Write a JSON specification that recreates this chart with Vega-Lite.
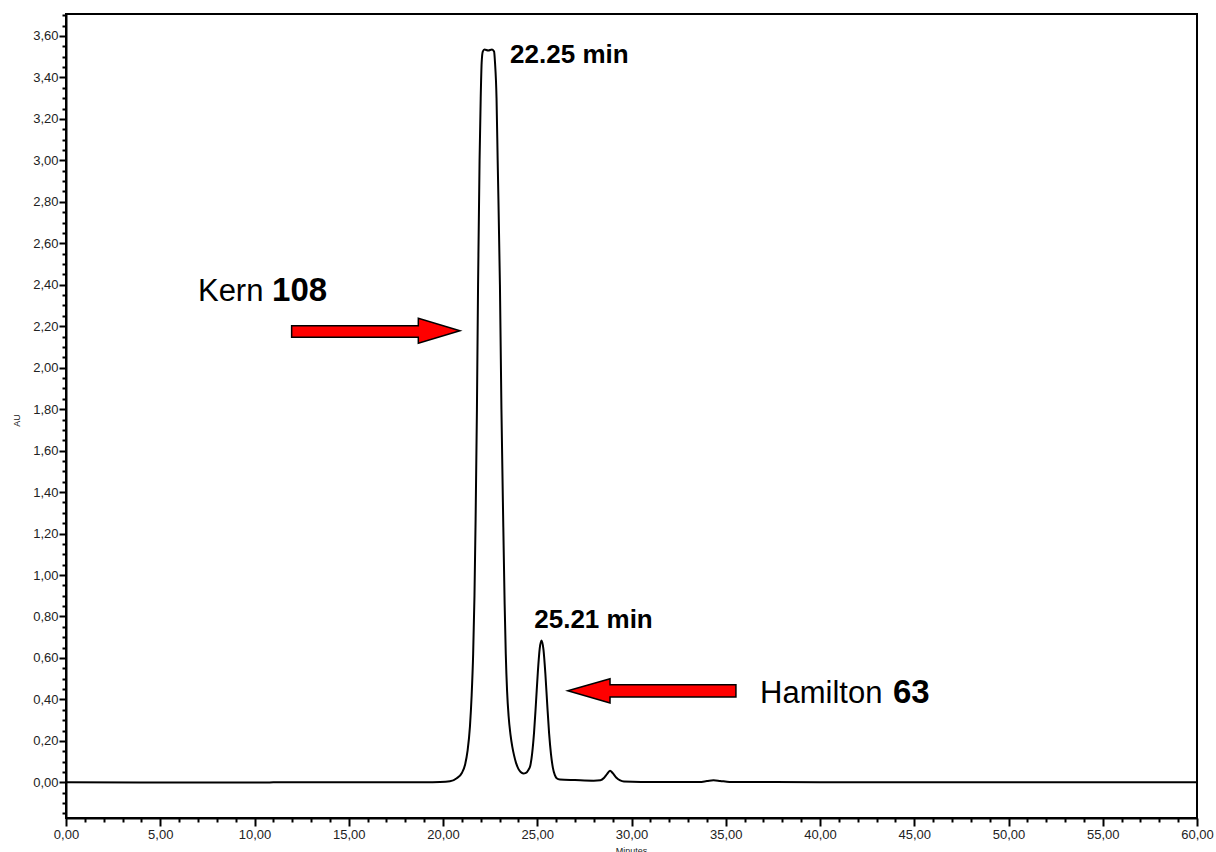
{
  "$schema": "https://vega.github.io/schema/vega-lite/v6.json",
  "width": 1131,
  "height": 804,
  "autosize": {"type": "none"},
  "padding": {"left": 66, "top": 14, "right": 19, "bottom": 34},
  "background": "white",
  "config": {
    "view": {"stroke": "black", "strokeWidth": 2},
    "font": "Liberation Sans"
  },
  "datasets": {
    "trace": [
      {"t": 0, "v": 0}, {"t": 8.5, "v": -0.001}, {"t": 10.6, "v": -0.001}, {"t": 11, "v": 0},
      {"t": 19.0, "v": 0.001}, {"t": 19.84, "v": 0.002}, {"t": 20.37, "v": 0.005}, {"t": 20.73, "v": 0.02},
      {"t": 21.0, "v": 0.045}, {"t": 21.17, "v": 0.085}, {"t": 21.3, "v": 0.15}, {"t": 21.43, "v": 0.27},
      {"t": 21.52, "v": 0.42}, {"t": 21.6, "v": 0.62}, {"t": 21.67, "v": 0.9}, {"t": 21.73, "v": 1.27},
      {"t": 21.8, "v": 1.8}, {"t": 21.86, "v": 2.4}, {"t": 21.94, "v": 3.0}, {"t": 22.0, "v": 3.3},
      {"t": 22.05, "v": 3.47}, {"t": 22.11, "v": 3.525}, {"t": 22.2, "v": 3.535}, {"t": 22.4, "v": 3.53},
      {"t": 22.6, "v": 3.535}, {"t": 22.71, "v": 3.525}, {"t": 22.76, "v": 3.47}, {"t": 22.84, "v": 3.3},
      {"t": 22.9, "v": 3.0}, {"t": 23.02, "v": 2.4}, {"t": 23.1, "v": 1.8}, {"t": 23.2, "v": 1.23},
      {"t": 23.27, "v": 0.86}, {"t": 23.33, "v": 0.62}, {"t": 23.4, "v": 0.44}, {"t": 23.48, "v": 0.32},
      {"t": 23.58, "v": 0.23}, {"t": 23.68, "v": 0.17}, {"t": 23.77, "v": 0.13}, {"t": 23.87, "v": 0.095},
      {"t": 24.0, "v": 0.065}, {"t": 24.12, "v": 0.05}, {"t": 24.26, "v": 0.043}, {"t": 24.4, "v": 0.046},
      {"t": 24.53, "v": 0.06}, {"t": 24.63, "v": 0.08}, {"t": 24.73, "v": 0.14}, {"t": 24.83, "v": 0.24},
      {"t": 24.93, "v": 0.38}, {"t": 25.03, "v": 0.53}, {"t": 25.13, "v": 0.645}, {"t": 25.23, "v": 0.684},
      {"t": 25.33, "v": 0.64}, {"t": 25.43, "v": 0.525}, {"t": 25.53, "v": 0.375}, {"t": 25.63, "v": 0.235},
      {"t": 25.73, "v": 0.135}, {"t": 25.83, "v": 0.07}, {"t": 25.93, "v": 0.036}, {"t": 26.03, "v": 0.02},
      {"t": 26.2, "v": 0.014}, {"t": 27.0, "v": 0.011}, {"t": 28.0, "v": 0.008}, {"t": 28.35, "v": 0.01},
      {"t": 28.55, "v": 0.022}, {"t": 28.7, "v": 0.04}, {"t": 28.86, "v": 0.056}, {"t": 29.0, "v": 0.045},
      {"t": 29.2, "v": 0.022}, {"t": 29.4, "v": 0.009}, {"t": 29.6, "v": 0.004}, {"t": 30.5, "v": 0.002},
      {"t": 33.6, "v": 0.002}, {"t": 34.0, "v": 0.006}, {"t": 34.35, "v": 0.01}, {"t": 34.7, "v": 0.007},
      {"t": 35.2, "v": 0.002}, {"t": 40, "v": 0.001}, {"t": 42, "v": 0}, {"t": 60, "v": 0}
    ],
    "arrows": [
      {"arrow": "Kern", "t": 11.97, "lo": 2.147, "hi": 2.202},
      {"arrow": "Kern", "t": 18.69, "lo": 2.147, "hi": 2.202},
      {"arrow": "Kern", "t": 18.691, "lo": 2.118, "hi": 2.238},
      {"arrow": "Kern", "t": 20.9, "lo": 2.178, "hi": 2.178},
      {"arrow": "Hamilton", "t": 26.62, "lo": 0.442, "hi": 0.442},
      {"arrow": "Hamilton", "t": 28.86, "lo": 0.383, "hi": 0.5},
      {"arrow": "Hamilton", "t": 28.861, "lo": 0.412, "hi": 0.471},
      {"arrow": "Hamilton", "t": 35.54, "lo": 0.412, "hi": 0.471}
    ],
    "times": [
      {"t": 23.56, "v": 3.47, "label": "22.25 min"},
      {"t": 24.84, "v": 0.744, "label": "25.21 min"}
    ],
    "names": [
      {"t": 7.0, "v": 2.323, "label": "Kern"},
      {"t": 36.82, "v": 0.383, "label": "Hamilton"}
    ],
    "nums": [
      {"t": 10.93, "v": 2.323, "label": "108"},
      {"t": 43.87, "v": 0.383, "label": "63"}
    ]
  },
  "resolve": {"axis": {"x": "independent", "y": "independent"}},
  "layer": [
    {
      "data": {"name": "trace"},
      "mark": {"type": "line", "color": "black", "strokeWidth": 2, "interpolate": "monotone"},
      "encoding": {
        "x": {
          "field": "t", "type": "quantitative",
          "scale": {"domain": [0, 60], "nice": false, "zero": false},
          "axis": {
            "orient": "bottom",
            "values": [0, 5, 10, 15, 20, 25, 30, 35, 40, 45, 50, 55, 60],
            "labelExpr": "replace(format(datum.value, '.2f'), '.', ',')",
            "grid": false, "domainColor": "black", "domainWidth": 2,
            "tickColor": "black", "tickWidth": 2, "tickSize": 8,
            "labelFontSize": 13, "labelColor": "#222", "labelPadding": 2,
            "labelFlush": false, "labelOverlap": false,
            "title": "Minutes", "titleFontSize": 9, "titleFontWeight": "normal",
            "titleColor": "#222", "titleX": 565, "titleY": 28, "titleBaseline": "top", "titleAlign": "center"
          }
        },
        "y": {
          "field": "v", "type": "quantitative",
          "scale": {"domain": [-0.172, 3.706], "nice": false, "zero": false},
          "axis": {
            "orient": "left",
            "values": [0, 0.2, 0.4, 0.6, 0.8, 1.0, 1.2, 1.4, 1.6, 1.8, 2.0, 2.2, 2.4, 2.6, 2.8, 3.0, 3.2, 3.4, 3.6],
            "labelExpr": "replace(format(datum.value, '.2f'), '.', ',')",
            "grid": false, "domainColor": "black", "domainWidth": 2,
            "tickColor": "black", "tickWidth": 2, "tickSize": 7,
            "labelFontSize": 13, "labelColor": "#222", "labelPadding": 1,
            "labelFlush": false, "labelOverlap": false,
            "title": "AU", "titleFontSize": 9, "titleFontWeight": "normal",
            "titleColor": "#222", "titleX": -50, "titleY": 406, "titleAngle": -90,
            "titleBaseline": "middle", "titleAlign": "center"
          }
        }
      }
    },
    {
      "data": {"name": "trace"},
      "mark": {"type": "line", "strokeOpacity": 0},
      "encoding": {
        "x": {
          "field": "t", "type": "quantitative",
          "scale": {"domain": [0, 60], "nice": false, "zero": false},
          "axis": {
            "orient": "bottom",
            "values": [1,2,3,4,6,7,8,9,11,12,13,14,16,17,18,19,21,22,23,24,26,27,28,29,31,32,33,34,36,37,38,39,41,42,43,44,46,47,48,49,51,52,53,54,56,57,58,59],
            "labels": false, "domain": false, "grid": false, "title": null,
            "tickColor": "black", "tickWidth": 2, "tickSize": 4
          }
        },
        "y": {
          "field": "v", "type": "quantitative",
          "scale": {"domain": [-0.172, 3.706], "nice": false, "zero": false},
          "axis": {
            "orient": "left",
            "values": [-0.15,-0.1,-0.05,0.05,0.1,0.15,0.25,0.3,0.35,0.45,0.5,0.55,0.65,0.7,0.75,0.85,0.9,0.95,1.05,1.1,1.15,1.25,1.3,1.35,1.45,1.5,1.55,1.65,1.7,1.75,1.85,1.9,1.95,2.05,2.1,2.15,2.25,2.3,2.35,2.45,2.5,2.55,2.65,2.7,2.75,2.85,2.9,2.95,3.05,3.1,3.15,3.25,3.3,3.35,3.45,3.5,3.55,3.65,3.7],
            "labels": false, "domain": false, "grid": false, "title": null,
            "tickColor": "black", "tickWidth": 2, "tickSize": 4
          }
        }
      }
    },
    {
      "data": {"name": "arrows"},
      "mark": {"type": "area", "orient": "vertical", "fill": "#FF0000", "fillOpacity": 1, "stroke": "black", "strokeWidth": 1.5, "interpolate": "linear"},
      "encoding": {
        "x": {"field": "t", "type": "quantitative", "scale": {"domain": [0, 60], "nice": false, "zero": false}, "axis": null},
        "y": {"field": "lo", "type": "quantitative", "stack": null, "scale": {"domain": [-0.172, 3.706], "nice": false, "zero": false}, "axis": null},
        "y2": {"field": "hi"},
        "detail": {"field": "arrow", "type": "nominal"}
      }
    },
    {
      "data": {"name": "times"},
      "mark": {"type": "text", "align": "left", "baseline": "alphabetic", "fontSize": 26, "fontWeight": "bold", "color": "black", "font": "Liberation Sans"},
      "encoding": {
        "x": {"field": "t", "type": "quantitative", "scale": {"domain": [0, 60], "nice": false, "zero": false}, "axis": null},
        "y": {"field": "v", "type": "quantitative", "scale": {"domain": [-0.172, 3.706], "nice": false, "zero": false}, "axis": null},
        "text": {"field": "label"}
      }
    },
    {
      "data": {"name": "names"},
      "mark": {"type": "text", "align": "left", "baseline": "alphabetic", "fontSize": 31, "fontWeight": "normal", "color": "black", "font": "Liberation Sans"},
      "encoding": {
        "x": {"field": "t", "type": "quantitative", "scale": {"domain": [0, 60], "nice": false, "zero": false}, "axis": null},
        "y": {"field": "v", "type": "quantitative", "scale": {"domain": [-0.172, 3.706], "nice": false, "zero": false}, "axis": null},
        "text": {"field": "label"}
      }
    },
    {
      "data": {"name": "nums"},
      "mark": {"type": "text", "align": "left", "baseline": "alphabetic", "fontSize": 33, "fontWeight": "bold", "color": "black", "font": "Liberation Sans"},
      "encoding": {
        "x": {"field": "t", "type": "quantitative", "scale": {"domain": [0, 60], "nice": false, "zero": false}, "axis": null},
        "y": {"field": "v", "type": "quantitative", "scale": {"domain": [-0.172, 3.706], "nice": false, "zero": false}, "axis": null},
        "text": {"field": "label"}
      }
    }
  ]
}
